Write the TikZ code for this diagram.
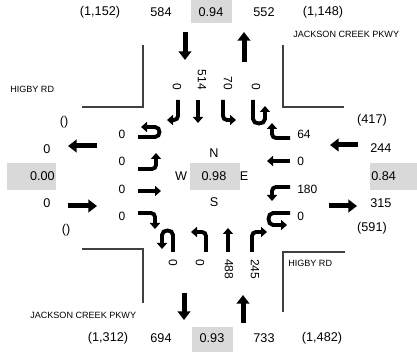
\documentclass[tikz,border=0pt]{standalone}
\usepackage{fontspec}
\setmainfont{Liberation Sans}
\usetikzlibrary{arrows.meta}
\definecolor{boxgray}{RGB}{217,217,217}
\definecolor{linegray}{RGB}{64,64,64}
\begin{document}
\begin{tikzpicture}[x=0.75pt,y=-0.75pt,
  num/.style={font=\fontsize{9.5}{11}\selectfont, inner sep=0pt},
  inum/.style={font=\fontsize{9}{10}\selectfont, inner sep=0pt},
  vnum/.style={font=\fontsize{9}{10}\selectfont, inner sep=0pt, rotate=-90},
  road/.style={font=\fontsize{6.8}{8}\selectfont, inner sep=0pt, anchor=west},
  gbox/.style={fill=boxgray, draw=none},
  cornerline/.style={draw=linegray, line width=1.2pt},
  bigarrow/.style={line width=3.75pt, -{Triangle[length=6.5pt,width=9.5pt]}},
  turn/.style={line width=2.9pt, rounded corners=3pt, -{Triangle[length=4.5pt,width=7.5pt]}}
]
\useasboundingbox (0,0) rectangle (417,352);

% gray boxes
\fill[gbox] (191,0) rectangle (232,23);
\fill[gbox] (192,327) rectangle (233,352);
\fill[gbox] (7,163) rectangle (56,190);
\fill[gbox] (190,163) rectangle (240,190);
\fill[gbox] (370,163) rectangle (417,190);

% top row
\node[num] (t1) at (100,12.5) {(1,152)};
\node[num] (t2) at (161,12.5) {584};
\node[num] (t3) at (211,12.5) {0.94};
\node[num] (t4) at (264,12.5) {552};
\node[num] (t5) at (323,12.5) {(1,148)};
% bottom row
\node[num] (b1) at (108,338) {(1,312)};
\node[num] (b2) at (161,338) {694};
\node[num] (b3) at (212,338) {0.93};
\node[num] (b4) at (264,338) {733};
\node[num] (b5) at (322,338) {(1,482)};
% left
\node[num] (l1) at (64,122) {()};
\node[num] (l2) at (47,149) {0};
\node[num,anchor=east] (l3) at (55,176.5) {0.00};
\node[num] (l4) at (47,203) {0};
\node[num] (l5) at (66,230) {()};
% right
\node[num] (r1) at (372,120) {(417)};
\node[num,anchor=west] (r2) at (370,148) {244};
\node[num,anchor=west] (r3) at (371,176.5) {0.84};
\node[num,anchor=west] (r4) at (370,203) {315};
\node[num] (r5) at (372,228) {(591)};
% center
\node[num] (cN) at (214,153) {N};
\node[num] (cW) at (181,176.5) {W};
\node[num] (cC) at (214,176.5) {0.98};
\node[num] (cE) at (244,176.5) {E};
\node[num] (cS) at (214,202) {S};

% road names
\node[road] (rn1) at (293,34) {JACKSON CREEK PKWY};
\node[road] (rn2) at (10,89) {HIGBY RD};
\node[road] (rn3) at (288,263) {HIGBY RD};
\node[road] (rn4) at (30,315) {JACKSON CREEK PKWY};

% corners
\draw[cornerline] (82,107) -- (143,107) -- (143,45);
\draw[cornerline] (283,45) -- (283,107) -- (344,107);
\draw[cornerline] (82,249) -- (143,249) -- (143,303);
\draw[cornerline] (345,252) -- (283,252) -- (283,312);

% big arrows
\draw[bigarrow] (185,32) -- (185,60);
\draw[bigarrow] (244,62) -- (244,32);
\draw[bigarrow] (97,146) -- (68,146);
\draw[bigarrow] (68,206) -- (97,206);
\draw[bigarrow] (358,145) -- (330,145);
\draw[bigarrow] (329,206) -- (357,206);
\draw[bigarrow] (184,293) -- (184,320);
\draw[bigarrow] (243,323) -- (243,295);

% inner labels
\node[inum] (wl1) at (122,134) {0};
\node[inum] (wl2) at (122,161) {0};
\node[inum] (wl3) at (122,189) {0};
\node[inum] (wl4) at (122,216) {0};
\node[inum,anchor=west] (el1) at (297,134) {64};
\node[inum,anchor=west] (el2) at (297,161) {0};
\node[inum,anchor=west] (el3) at (297,189) {180};
\node[inum,anchor=west] (el4) at (297,216) {0};
\node[vnum,anchor=east] (nl1) at (177,90) {0};
\node[vnum,anchor=east] (nl2) at (202,90) {514};
\node[vnum,anchor=east] (nl3) at (228,90) {70};
\node[vnum,anchor=east] (nl4) at (256,90) {0};
\node[vnum,anchor=west] (sl1) at (173,259) {0};
\node[vnum,anchor=west] (sl2) at (200,259) {0};
\node[vnum,anchor=west] (sl3) at (229,259) {488};
\node[vnum,anchor=west] (sl4) at (255,259) {245};

% north approach (southbound)
\draw[turn] (178,100) -- (178,120) -- (167,120);
\draw[turn] (198,100) -- (198,123);
\draw[turn] (223,100) -- (223,120) -- (236,120);
\draw[turn] (253,100) -- (253,115) .. controls (253,125) and (265,125) .. (265,115) -- (265,106);
% west approach (eastbound)
\draw[turn] (138,137) -- (151,137) .. controls (161,137) and (161,127) .. (151,127) -- (141,127);
\draw[turn] (138,169) -- (156,169) -- (156,153);
\draw[turn] (138,191) -- (161,191);
\draw[turn] (138,213) -- (155,213) -- (155,229);
% east approach (westbound)
\draw[turn] (290,138) -- (272,138) -- (272,123);
\draw[turn] (290,161) -- (267,161);
\draw[turn] (290,187) -- (272,187) -- (272,201);
\draw[turn] (290,213) -- (277,213) .. controls (267,213) and (267,225) .. (277,225) -- (287,225);
% south approach (northbound)
\draw[turn] (173,252) -- (173,239) .. controls (173,229) and (162,229) .. (162,239) -- (162,249);
\draw[turn] (206,252) -- (206,232) -- (191,232);
\draw[turn] (228,252) -- (228,228);
\draw[turn] (252,252) -- (252,232) -- (267,232);
\end{tikzpicture}
\end{document}
